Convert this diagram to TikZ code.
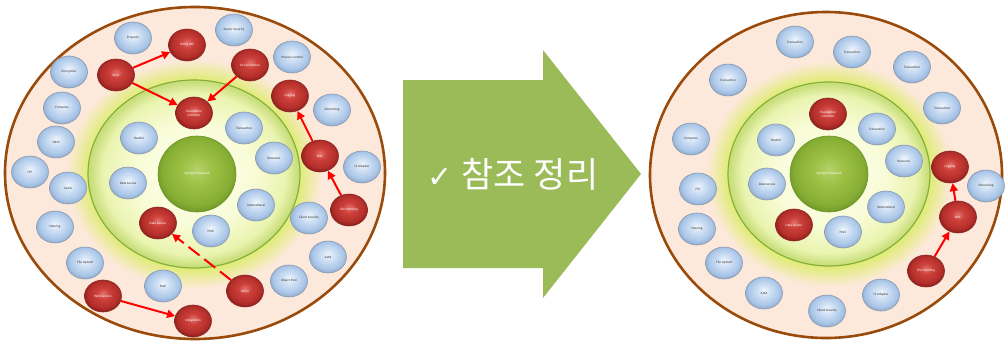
\documentclass[tikz,border=0pt]{standalone}
\usepackage{fontspec}
\setmainfont{Carlito}
\newfontfamily\korean{Noto Sans CJK KR}
\newfontfamily\symb{DejaVu Sans}
\usetikzlibrary{shapes.geometric,arrows.meta}

\definecolor{peach}{HTML}{FDE9DC}
\definecolor{rimbrown}{HTML}{9A4A0A}
\definecolor{arrowgreen}{HTML}{9BBB59}
\definecolor{halo}{HTML}{DCEC6A}
\definecolor{innerA}{HTML}{FEFFF2}
\definecolor{innerB}{HTML}{F8FCD6}
\definecolor{innerC}{HTML}{EAF4B0}
\definecolor{innerD}{HTML}{C9DE7C}
\definecolor{innerrim}{HTML}{86B03A}
\definecolor{blueA}{HTML}{F0F6FC}
\definecolor{blueB}{HTML}{CFE0F4}
\definecolor{blueC}{HTML}{AAC6E8}
\definecolor{blueD}{HTML}{8FAACB}
\definecolor{bluerim}{HTML}{8C9AAE}
\definecolor{redA}{HTML}{E2706A}
\definecolor{redB}{HTML}{CC3F3A}
\definecolor{redC}{HTML}{B32E2A}
\definecolor{redD}{HTML}{861C19}
\definecolor{redrim}{HTML}{8E2A26}
\definecolor{greenA}{HTML}{B5D36C}
\definecolor{greenB}{HTML}{9CC044}
\definecolor{greenC}{HTML}{87AE34}
\definecolor{greenrim}{HTML}{6F9628}

\pgfdeclareradialshading{glow}{\pgfpoint{0bp}{0bp}}{color(0bp)=(halo); color(20bp)=(halo); color(25bp)=(peach); color(50bp)=(peach)}
\pgfdeclareradialshading{innerfill}{\pgfpoint{0bp}{0bp}}{color(0bp)=(innerA); color(14bp)=(innerB); color(21.5bp)=(innerC); color(24.5bp)=(innerD); color(50bp)=(innerD)}
\pgfdeclareradialshading{bluemod}{\pgfpoint{0bp}{4bp}}{color(0bp)=(blueA); color(9bp)=(blueB); color(21bp)=(blueC); color(27bp)=(blueD); color(50bp)=(blueD)}
\pgfdeclareradialshading{redmod}{\pgfpoint{0bp}{4bp}}{color(0bp)=(redA); color(9bp)=(redB); color(21bp)=(redC); color(27bp)=(redD); color(50bp)=(redD)}
\pgfdeclareradialshading{greenmod}{\pgfpoint{0bp}{3bp}}{color(0bp)=(greenA); color(10bp)=(greenB); color(22bp)=(greenC); color(27bp)=(greenrim); color(50bp)=(greenrim)}

\begin{document}
\begin{tikzpicture}[
    x=1pt, y=-1pt,
    module/.style={
        ellipse,
        minimum width=37pt,
        minimum height=32pt,
        inner sep=0pt,
        align=center,
        line width=0.6pt,
        font=\fontsize{3.4}{3.9}\selectfont
    },
    plain/.style={
        module,
        shade,
        shading=bluemod,
        draw=bluerim,
        text=black!80
    },
    picked/.style={
        module,
        shade,
        shading=redmod,
        draw=redrim,
        text=white
    },
    core/.style={
        ellipse,
        minimum width=78pt,
        minimum height=76pt,
        inner sep=0pt,
        shade,
        shading=greenmod,
        draw=greenrim,
        line width=0.6pt,
        text=white,
        font=\fontsize{3.4}{3.9}\selectfont
    },
    link/.style={
        -{Triangle[length=8pt,width=8pt]},
        line width=2pt,
        red
    }
]
\useasboundingbox (0,0) rectangle (1005,343);

% Left Diagram
\draw[rimbrown, line width=2.6pt, fill=peach] (195,173) ellipse [x radius=190, y radius=166];
\shade[shading=glow] (194,174) ellipse [x radius=128, y radius=115];
\shadedraw[shading=innerfill, draw=innerrim, line width=1.2pt] (194,174) ellipse [x radius=106, y radius=94];

\node[core] (spring) at (197,174) {Spring Framework};
\node[plain] (property) at (133,38) {Property};
\node[picked] (strutil) at (187,45) {String Util};
\node[plain] (srvsec) at (234,30) {Server Security};
\node[plain] (process) at (292,57) {Process Control};
\node[picked] (ioconv) at (250,65) {IO Convention};
\node[picked] (logging) at (290,96) {Logging};
\node[plain] (sched) at (332,110) {Scheduling};
\node[plain] (encrypt) at (69,72) {Encryption};
\node[picked] (excel) at (116,75) {Excel};
\node[picked] (found) at (194,113) {Foundation\\Common};
\node[plain] (compress) at (62,108) {Compress};
\node[plain] (restful) at (139,138) {Restful};
\node[plain] (tx) at (244,128) {Transaction};
\node[plain] (oxm) at (56,142) {OXM};
\node[plain] (ftp) at (30,172) {FTP};
\node[plain] (cache) at (68,188) {Cache};
\node[plain] (dataacc) at (128,183) {Data Access};
\node[plain] (resource) at (274,158) {Resource};
\node[picked] (xml) at (320,156) {XML};
\node[plain] (uiadapt) at (362,167) {UI Adapter};
\node[plain] (naming) at (55,227) {Naming};
\node[picked] (datasrc) at (158,223) {Data Source};
\node[plain] (mvc) at (211,231) {MVC};
\node[plain] (intl) at (256,205) {International};
\node[plain] (clisec) at (309,218) {Client Security};
\node[picked] (filehand) at (349,210) {File Handling};
\node[plain] (ajax) at (328,257) {AJAX};
\node[plain] (objpool) at (289,281) {Object Pool};
\node[plain] (fileup) at (85,263) {File Upload};
\node[plain] (mail) at (163,286) {Mail};
\node[picked] (websvc) at (103,296) {Web Service};
\node[picked] (integ) at (193,321) {Integration};
\node[picked] (other) at (245,291) {Other};

\draw[link] (excel) -- (strutil);
\draw[link] (excel) -- (found);
\draw[link] (ioconv) -- (found);
\draw[link] (xml) -- (logging);
\draw[link] (filehand) -- (xml);
\draw[link, dash pattern=on 14pt off 6pt] (other) -- (datasrc);
\draw[link] (websvc) -- (integ);

% Big Arrow
\fill[arrowgreen] (403,80) -- (543,80) -- (543,50) -- (641,174) -- (543,298) -- (543,268) -- (403,268) -- cycle;
\node[text=white, inner sep=0pt] (note) at (513,174) {{\symb\fontsize{30}{34}\selectfont ✓}\hspace{9pt}{\korean\fontsize{35}{40}\selectfont 참조 정리}};

% Right Diagram
\draw[rimbrown, line width=2.6pt, fill=peach] (826,175) ellipse [x radius=176, y radius=163];
\shade[shading=glow] (829,174) ellipse [x radius=123, y radius=113];
\shadedraw[shading=innerfill, draw=innerrim, line width=1.2pt] (829,174) ellipse [x radius=101, y radius=92];

\node[core] (rspring) at (829,174) {Spring Framework};
\node[plain] (rtx1) at (795,42) {Transaction};
\node[plain] (rtx2) at (728,80) {Transaction};
\node[plain] (rtx3) at (852,52) {Transaction};
\node[plain] (rtx4) at (912,67) {Transaction};
\node[plain] (rtx5) at (942,108) {Transaction};
\node[picked] (rfound) at (828,114) {Foundation\\Common};
\node[plain] (rcompress) at (691,139) {Compress};
\node[plain] (rrestful) at (776,140) {Restful};
\node[plain] (rtx6) at (877,129) {Transaction};
\node[plain] (rftp) at (698,189) {FTP};
\node[plain] (rdataacc) at (767,184) {Data Access};
\node[plain] (rresource) at (904,161) {Resource};
\node[picked] (rlogging) at (950,167) {Logging};
\node[plain] (rsched) at (986,186) {Scheduling};
\node[plain] (rintl) at (886,207) {International};
\node[picked] (rxml) at (958,217) {XML};
\node[plain] (rnaming) at (697,229) {Naming};
\node[picked] (rdatasrc) at (794,225) {Data Source};
\node[plain] (rmvc) at (843,232) {MVC};
\node[plain] (rfileup) at (724,263) {File Upload};
\node[picked] (rfilehand) at (926,271) {File Handling};
\node[plain] (rajax) at (764,293) {AJAX};
\node[plain] (ruiadapt) at (881,295) {UI Adapter};
\node[plain] (rclisec) at (827,311) {Client Security};

\draw[link] (rxml) -- (rlogging);
\draw[link] (rfilehand) -- (rxml);

\end{tikzpicture}
\end{document}
